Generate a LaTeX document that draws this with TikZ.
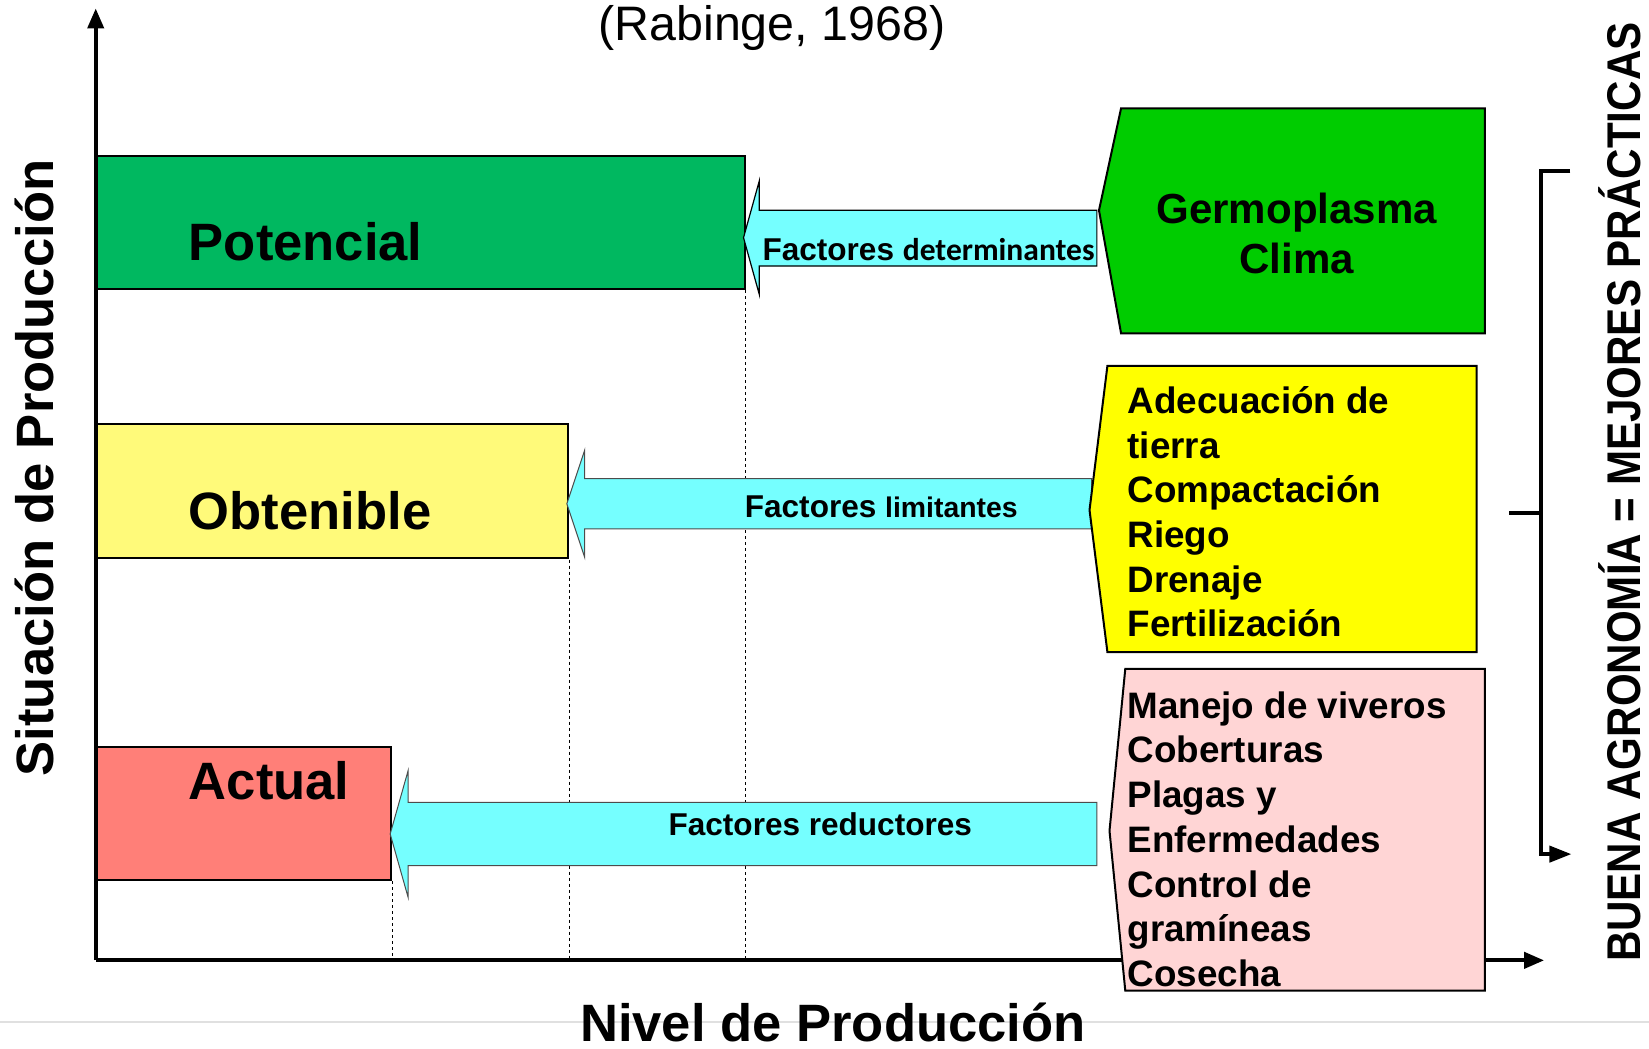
\documentclass[tikz,border=0pt]{standalone}
\usepackage{fontspec}
\setmainfont{Liberation Sans}
\newfontfamily\calfont{Carlito}
\usetikzlibrary{arrows.meta}
\definecolor{potgreen}{RGB}{0,184,96}
\definecolor{obtyellow}{RGB}{255,250,122}
\definecolor{actred}{RGB}{255,127,120}
\definecolor{arrcyan}{RGB}{117,255,255}
\definecolor{germgreen}{RGB}{0,204,0}
\definecolor{adyellow}{RGB}{255,255,0}
\definecolor{manpink}{RGB}{255,213,213}
\tikzset{
  levelbox/.style={draw, line width=2pt, anchor=north west, inner sep=0pt},
  leveltxt/.style={anchor=west, font=\bfseries\fontsize{50}{60}\selectfont},
  factarrow/.style={draw, fill=arrcyan, line width=1.2pt, line join=miter},
  factbox/.style={draw, line width=2pt},
  listtxt/.style={anchor=base west, align=left, inner sep=0pt, font=\bfseries\fontsize{35}{42.5}\selectfont},
  facttxt/.style={font=\bfseries\fontsize{30}{36}\selectfont}
}
\begin{document}
\begin{tikzpicture}[x=1pt,y=-1pt,scale=1.0517,transform shape]
\useasboundingbox (0,0) rectangle (1568,997.4);
\draw[black!12, line width=2pt] (0,972) -- (1568,972);
% axes
\coordinate (orig) at (91,913);
\coordinate (ytop) at (91,8);
\coordinate (xend) at (1468,913);
\draw[line width=4pt, -{Triangle[length=20pt,width=16pt]}] (orig) -- (ytop);
\draw[line width=4pt, -{Triangle[length=20pt,width=16pt]}] (orig) -- (xend);
\node[font=\fontsize{46}{54}\selectfont] (title) at (734,27) {(Rabinge, 1968)};
\node[rotate=90, font=\bfseries\fontsize{50}{60}\selectfont] (ylab) at (33,445) {Situación de Producción};
\node[anchor=base, font=\bfseries\fontsize{50}{60}\selectfont] (xlab) at (792,990) {Nivel de Producción};
% levels
\node[levelbox, fill=potgreen, minimum width=616pt, minimum height=127pt] (pot) at (91,147) {};
\node[levelbox, fill=obtyellow, minimum width=448pt, minimum height=128pt] (obt) at (91,402) {};
\node[levelbox, fill=actred, minimum width=280pt, minimum height=127pt] (act) at (91,709) {};
\node[leveltxt] (pottxt) at (176,230) {Potencial};
\node[leveltxt] (obttxt) at (176,486) {Obtenible};
\node[leveltxt] (acttxt) at (176,742) {Actual};
% dotted guides
\draw[dash pattern=on 3pt off 3pt, line width=1pt] (pot.south east) -- (pot.south east |- orig);
\draw[dash pattern=on 3pt off 3pt, line width=1pt] (obt.south east) -- (obt.south east |- orig);
\draw[dash pattern=on 3pt off 3pt, line width=1pt] (act.south east) -- (act.south east |- orig);
% factor arrows
\draw[factarrow] (707,226) -- (722,172) -- (722,200) -- (1043,200) -- (1043,253) -- (722,253) -- (722,280) -- cycle;
\draw[factarrow, draw=black!70, line width=1pt] (539,479) -- (556,428) -- (556,455) -- (1038,455) -- (1038,503) -- (556,503) -- (556,530) -- cycle;
\draw[factarrow, draw=black!70, line width=1pt] (371,793) -- (388,733) -- (388,763) -- (1043,763) -- (1043,823) -- (388,823) -- (388,853) -- cycle;
\node[facttxt] (det) at (883,237) {Factores {\calfont determinantes}};
\node[facttxt] (lim) at (838,482) {Factores {\fontsize{27}{32}\selectfont limitantes}};
\node[facttxt] (red) at (780,784) {Factores reductores};
% factor boxes
\draw[factbox, fill=germgreen] (1066,103) -- (1412,103) -- (1412,317) -- (1066,317) -- (1045,200) -- cycle;
\draw[factbox, fill=adyellow] (1053,348) -- (1404,348) -- (1404,620) -- (1053,620) -- (1036,485) -- cycle;
\draw[factbox, fill=manpink] (1070,636) -- (1412,636) -- (1412,942) -- (1070,942) -- (1055,790) -- cycle;
\node[align=center, font=\bfseries\fontsize{40}{47}\selectfont] (germ) at (1233,222) {Germoplasma\\Clima};
\node[listtxt] (adec) at (1072,605.5) {Adecuación de\\tierra\\Compactación\\Riego\\Drenaje\\Fertilización};
\node[listtxt] (manej) at (1072,938) {Manejo de viveros\\Coberturas\\Plagas y\\Enfermedades\\Control de\\gramíneas\\Cosecha};
% bracket
\coordinate (brtop) at (1493,163);
\coordinate (brtl) at (1465,163);
\coordinate (brbl) at (1465,812);
\coordinate (brbot) at (1494,812);
\coordinate (brmid) at (1465,488);
\coordinate (brtick) at (1435,488);
\draw[line width=4pt, -{Triangle[length=22pt,width=16pt]}] (brtop) -- (brtl) -- (brbl) -- (brbot);
\draw[line width=4pt] (brtick) -- (brmid);
\node[rotate=90, inner sep=0pt, font=\bfseries\fontsize{45}{54}\selectfont] (bapm) at (1540,468) {\scalebox{0.89}[1]{BUENA AGRONOMÍA = MEJORES PRÁCTICAS}};
\end{tikzpicture}
\end{document}
